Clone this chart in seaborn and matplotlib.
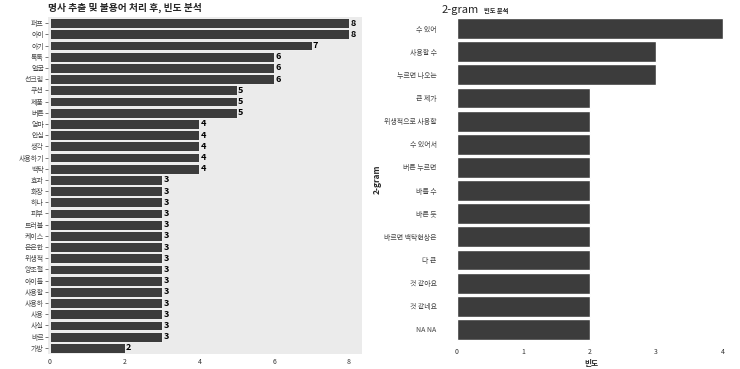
import matplotlib
matplotlib.use("Agg")
import matplotlib.pyplot as plt
import seaborn as sns
import pandas as pd

nouns = ["퍼프", "아이", "아기", "톡톡", "얼굴", "선크림", "쿠션", "제품", "버튼", "엄마",
         "안심", "생각", "사용하기", "백탁", "효과", "화장", "하나", "피부", "트러블", "케이스",
         "은은한", "위생적", "양조절", "아이들", "사용할", "사용하", "사용", "사실", "바르", "가방"]
noun_counts = [8, 8, 7, 6, 6, 6, 5, 5, 5, 4,
               4, 4, 4, 4, 3, 3, 3, 3, 3, 3,
               3, 3, 3, 3, 3, 3, 3, 3, 3, 2]

bigrams = ["수 있어", "사용할 수", "누르면 나오는", "큰 제가", "위생적으로 사용할", "수 있어서",
           "버튼 누르면", "바를 수", "바른 듯", "바르면 백탁현상은", "다 큰", "것 같아요",
           "것 같네요", "NA NA"]
bigram_counts = [4, 3, 3, 2, 2, 2, 2, 2, 2, 2, 2, 2, 2, 2]

sns.set_theme(style="white")
plt.rcParams['font.family'] = ['Noto Sans CJK KR', 'DejaVu Sans']

fig = plt.figure(figsize=(7.4, 3.69), dpi=100)
W, H = 740, 369

def axes_px(l, t, r, b):
    return fig.add_axes([l / W, 1 - b / H, (r - l) / W, (b - t) / H])

bar_color = "#3c3c3c"

# Left panel
ax1 = axes_px(48, 17, 362, 354)
df1 = pd.DataFrame({"word": nouns, "n": noun_counts})
sns.barplot(data=df1, x="n", y="word", color=bar_color, ax=ax1, width=0.88,
            edgecolor="white", linewidth=0.6, saturation=1)
ax1.set_facecolor("#ebebeb")
for c in ax1.containers:
    ax1.bar_label(c, fontsize=6.5, fontweight="bold", padding=1, color="black")
ax1.set_xlim(-0.05, 8.35)
ax1.set_ylim(len(nouns) - 0.45, -0.55)
ax1.set_xticks([0, 2, 4, 6, 8])
ax1.set_xlabel("")
ax1.set_ylabel("")
ax1.tick_params(axis="y", labelsize=5, length=2, width=0.5, pad=1, colors="#444444", left=True)
ax1.tick_params(axis="x", labelsize=5, length=0, pad=3, colors="#333333")
for s in ax1.spines.values():
    s.set_visible(False)
fig.text(48 / W, 1 - 8 / H, "명사 추출 및 불용어 처리 후, 빈도 분석", fontsize=7, fontweight="bold",
         ha="left", va="center")

# Right panel
ax2 = axes_px(456, 17, 726, 341)
df2 = pd.DataFrame({"gram": bigrams, "n": bigram_counts})
sns.barplot(data=df2, x="n", y="gram", color=bar_color, ax=ax2, width=0.9,
            edgecolor="white", linewidth=1.0, saturation=1)
ax2.set_facecolor("white")
ax2.set_xlim(-0.01, 4.05)
ax2.set_ylim(len(bigrams) - 0.5, -0.5)
ax2.set_xticks([0, 1, 2, 3, 4])
ax2.set_xlabel("빈도", fontsize=5.5, fontweight="bold", labelpad=2)
ax2.set_ylabel("2-gram", fontsize=6, fontweight="bold")
ax2.yaxis.set_label_coords((382 - 456) / 270, 0.5)
ax2.tick_params(axis="y", labelsize=5, length=0, pad=14, colors="#444444")
ax2.tick_params(axis="x", labelsize=5, length=0, pad=5, colors="#333333")
for s in ax2.spines.values():
    s.set_visible(False)
fig.text(442 / W, 1 - 10 / H, "2-gram", fontsize=8, ha="left", va="center")
fig.text(484 / W, 1 - 10 / H, "빈도 분석", fontsize=4.5, fontweight="bold", ha="left", va="center")

fig.savefig("out.png", dpi=100)
